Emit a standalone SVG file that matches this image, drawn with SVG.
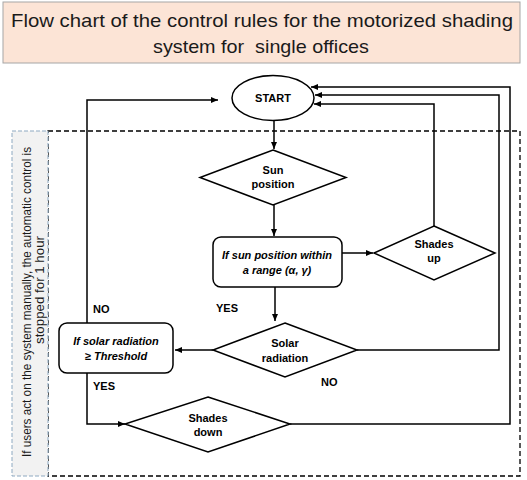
<svg xmlns="http://www.w3.org/2000/svg" width="527" height="480" viewBox="0 0 527 480">
<defs>
<marker id="arr" markerWidth="8" markerHeight="8" refX="7" refY="4" orient="auto" markerUnits="userSpaceOnUse">
<path d="M0,1 L7,4 L0,7 Z" fill="#000"/>
</marker>
<style>
.shape{fill:#fff;stroke:#000;stroke-width:1.5}
.conn{fill:none;stroke:#000;stroke-width:1.5}
.t{font-family:"Liberation Sans",Arial,sans-serif;font-weight:bold;font-size:11px;text-anchor:middle;fill:#000}
.ti{font-style:italic}
.lbl{font-family:"Liberation Sans",Arial,sans-serif;font-weight:bold;font-size:11px;fill:#000}
</style>
</defs>
<rect width="527" height="480" fill="#fff"/>
<g id="title">
<rect x="3" y="2" width="517" height="61" fill="#FCE4D6" stroke="#A6A6A6" stroke-width="1"/>
<text x="262" y="27" font-family="Liberation Sans,Arial,sans-serif" font-size="19" text-anchor="middle" textLength="502" lengthAdjust="spacingAndGlyphs" fill="#1a1a1a">Flow chart of the control rules for the motorized shading</text>
<text x="261" y="53" font-family="Liberation Sans,Arial,sans-serif" font-size="19" text-anchor="middle" textLength="216" lengthAdjust="spacingAndGlyphs" fill="#1a1a1a" xml:space="preserve">system for  single offices</text>
</g>
<g id="manual-zone">
<rect x="48" y="131" width="472" height="345" fill="none" stroke="#000" stroke-width="1.3" stroke-dasharray="5,3"/>
</g>
<g id="note">
<rect x="12" y="131" width="36" height="345" fill="#F2F2F2" stroke="#8EA9C1" stroke-width="1" stroke-dasharray="4,2"/>
<g transform="translate(0,302) rotate(-90)" font-family="Liberation Sans,Arial,sans-serif" font-size="12" text-anchor="middle" fill="#1a1a1a">
<text x="0" y="31" textLength="310" lengthAdjust="spacingAndGlyphs">If users act on the system manually, the automatic control is</text>
<text x="12" y="44" textLength="108" lengthAdjust="spacingAndGlyphs">stopped for 1 hour</text>
</g>
</g>
<g id="connectors">
<path class="conn" d="M274,120 V149" marker-end="url(#arr)"/>
<path class="conn" d="M274,205 V236" marker-end="url(#arr)"/>
<path class="conn" d="M342,253 H373" marker-end="url(#arr)"/>
<path class="conn" d="M434,226 V104 H314" marker-end="url(#arr)"/>
<path class="conn" d="M275,287 V321" marker-end="url(#arr)"/>
<path class="conn" d="M357,350 H499 V95 H315" marker-end="url(#arr)"/>
<path class="conn" d="M213,350 H175" marker-end="url(#arr)"/>
<path class="conn" d="M87,323 V100 H218" marker-end="url(#arr)"/>
<path class="conn" d="M87,373 V424 H125" marker-end="url(#arr)"/>
<path class="conn" d="M290,424 H510 V87 H311" marker-end="url(#arr)"/>
</g>
<g id="start">
<ellipse class="shape" cx="273" cy="98" rx="41" ry="22.5"/>
<text class="t" x="273" y="102">START</text>
</g>
<g id="sun-position">
<polygon class="shape" points="273,150 346,177.5 273,205 200,177.5"/>
<text class="t" x="273" y="174">Sun</text>
<text class="t" x="273" y="188">position</text>
</g>
<g id="sun-range">
<rect class="shape" x="213" y="237" width="129" height="50" rx="8"/>
<text class="t ti" x="277" y="259">If sun position within</text>
<text class="t ti" x="277" y="274">a range (α, γ)</text>
</g>
<g id="shades-up">
<polygon class="shape" points="434,226 495,253 434,280 374,253"/>
<text class="t" x="434" y="248">Shades</text>
<text class="t" x="434" y="262">up</text>
</g>
<g id="solar-radiation">
<polygon class="shape" points="285,323 357,350 285,377 213,350"/>
<text class="t" x="285" y="347">Solar</text>
<text class="t" x="285" y="362">radiation</text>
</g>
<g id="threshold">
<rect class="shape" x="59" y="323" width="114" height="50" rx="8"/>
<text class="t ti" x="116" y="345">If solar radiation</text>
<text class="t ti" x="116" y="360">≥ Threshold</text>
</g>
<g id="shades-down">
<polygon class="shape" points="208,397 290,424 208,452 125,424"/>
<text class="t" x="208" y="422">Shades</text>
<text class="t" x="208" y="436">down</text>
</g>
<g id="labels">
<text class="lbl" x="93" y="313">NO</text>
<text class="lbl" x="216" y="312">YES</text>
<text class="lbl" x="93" y="390">YES</text>
<text class="lbl" x="321" y="386" font-size="9">NO</text>
</g>
</svg>
